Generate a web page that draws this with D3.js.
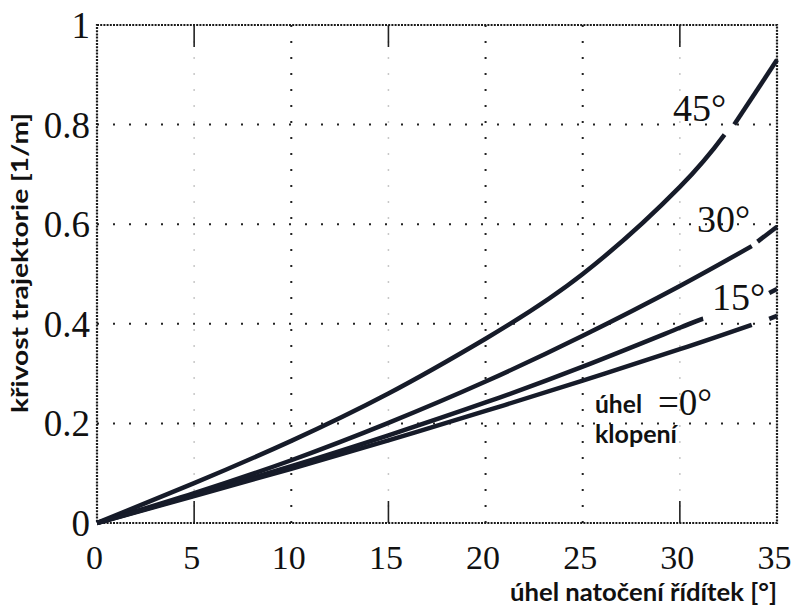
<!DOCTYPE html>
<html>
<head>
<meta charset="utf-8">
<script src="https://cdn.jsdelivr.net/npm/d3@7"></script>
<style>
  body { margin: 0; background: #fff; }
  svg { display: block; }
</style>
</head>
<body>
<div id="chart"></div>
<script>
const xTicks = [0, 5, 10, 15, 20, 25, 30, 35]
const yTicks = [0, 0.2, 0.4, 0.6, 0.8, 1]
const gridX = [10, 20, 25]
const tickX = [5, 15, 30]
const gridY = [0.2, 0.4, 0.6, 0.8]

// each curve is drawn as separate pieces, gaps as in the scan
const curve45 = [
  [[0, 0], [5, 0.080], [10, 0.165], [15, 0.260], [20, 0.370], [25, 0.500], [30, 0.675], [32.3, 0.78]],
  [[32.8, 0.80], [35, 0.93]]
]
const curve30 = [
  [[0, 0], [5, 0.060], [10, 0.126], [15, 0.201], [20, 0.284], [25, 0.376], [30, 0.476], [33.7, 0.556]],
  [[34.0, 0.565], [35, 0.595]]
]
const curve15 = [
  [[0, 0], [5, 0.056], [10, 0.114], [15, 0.176], [20, 0.242], [25, 0.314], [30, 0.392], [31.2, 0.41]],
  [[34.6, 0.462], [35, 0.47]]
]
const curve0 = [
  [[0, 0], [5, 0.054], [10, 0.109], [15, 0.166], [20, 0.225], [25, 0.286], [30, 0.349], [33.7, 0.398]],
  [[34.6, 0.41], [35, 0.416]]
]
const curves = [curve45, curve30, curve15, curve0]

const labels = [
  {text: "45°", x: 673, y: 121},
  {text: "30°", x: 697, y: 232},
  {text: "15°", x: 712, y: 310}
]

const width = 795
const height = 613
const margin = {left: 97, right: 18, top: 25, bottom: 90}

const svg = d3.select("#chart").append("svg")
  .attr("width", width)
  .attr("height", height)

const scaleX = d3.scaleLinear()
  .domain([0, 35])
  .range([margin.left, width - margin.right])
const scaleY = d3.scaleLinear()
  .domain([0, 1])
  .range([height - margin.bottom, margin.top])

const ink = "#161b29"
const serif = "'Liberation Serif', 'Times New Roman', serif"
const sans = "Lato, 'Noto Sans', sans-serif"

// faint dotted lines behind the tick marks
svg.append("g").selectAll("line")
  .data(tickX)
  .join("line")
    .attr("x1", d => scaleX(d)).attr("x2", d => scaleX(d))
    .attr("y1", scaleY(1)).attr("y2", scaleY(0))
    .attr("stroke", "#c8c8c8")
    .attr("stroke-width", 1.5)
    .attr("stroke-dasharray", "2,14")

// dotted grid
const grid = svg.append("g")
  .attr("stroke", "#222")
  .attr("stroke-width", 2)
  .attr("stroke-dasharray", "2,14")
grid.selectAll("line.gx")
  .data(gridX)
  .join("line")
    .attr("class", "gx")
    .attr("x1", d => scaleX(d)).attr("x2", d => scaleX(d))
    .attr("y1", scaleY(0)).attr("y2", scaleY(1))
grid.selectAll("line.gy")
  .data(gridY)
  .join("line")
    .attr("class", "gy")
    .attr("x1", scaleX(0)).attr("x2", scaleX(35))
    .attr("y1", d => scaleY(d)).attr("y2", d => scaleY(d))

// frame, densely dotted
svg.append("rect")
  .attr("x", scaleX(0))
  .attr("y", scaleY(1))
  .attr("width", scaleX(35) - scaleX(0))
  .attr("height", scaleY(0) - scaleY(1))
  .attr("fill", "none")
  .attr("stroke", "#1a1a1a")
  .attr("stroke-width", 2.2)
  .attr("stroke-dasharray", "2,1.2")

// solid tick marks at top and bottom
const ticks = svg.append("g").attr("stroke", "#222").attr("stroke-width", 1.6)
ticks.selectAll("line.tb")
  .data(tickX)
  .join("line")
    .attr("class", "tb")
    .attr("x1", d => scaleX(d)).attr("x2", d => scaleX(d))
    .attr("y1", scaleY(0)).attr("y2", scaleY(0) - 22)
ticks.selectAll("line.tt")
  .data(tickX)
  .join("line")
    .attr("class", "tt")
    .attr("x1", d => scaleX(d)).attr("x2", d => scaleX(d))
    .attr("y1", scaleY(1)).attr("y2", scaleY(1) + 22)

// tick labels
const axisX = d3.axisBottom(scaleX).tickValues(xTicks).tickSize(0).tickPadding(22)
svg.append("g")
  .attr("transform", `translate(0, ${scaleY(0)})`)
  .call(axisX)
  .call(g => g.select(".domain").remove())
  .call(g => g.selectAll("text")
    .attr("font-family", serif)
    .attr("font-size", 34)
    .attr("fill", "#111")
    .attr("dx", -3))

const axisY = d3.axisLeft(scaleY).tickValues(yTicks).tickSize(0).tickPadding(7)
  .tickFormat(d => String(d))
svg.append("g")
  .attr("transform", `translate(${scaleX(0)}, 0)`)
  .call(axisY)
  .call(g => g.select(".domain").remove())
  .call(g => g.selectAll("text")
    .attr("font-family", serif)
    .attr("font-size", 37)
    .attr("fill", "#111")
    .attr("dy", "0.34em"))

// curves
const line = d3.line()
  .x(d => scaleX(d[0]))
  .y(d => scaleY(d[1]))
  .curve(d3.curveNatural)

svg.append("g").selectAll("path")
  .data(curves.flat())
  .join("path")
    .attr("d", line)
    .attr("fill", "none")
    .attr("stroke", ink)
    .attr("stroke-width", 4.5)
    .attr("stroke-linecap", "butt")

// curve labels
svg.append("g").selectAll("text")
  .data(labels)
  .join("text")
    .attr("x", d => d.x)
    .attr("y", d => d.y)
    .attr("font-family", serif)
    .attr("font-size", 38)
    .attr("fill", "#111")
    .text(d => d.text)

svg.append("text")
  .attr("x", 658).attr("y", 415)
  .attr("font-family", serif)
  .attr("font-size", 37)
  .attr("fill", "#111")
  .text("=0°")

svg.append("text")
  .attr("x", 595).attr("y", 413)
  .attr("font-family", sans)
  .attr("font-weight", "bold")
  .attr("font-size", 24)
  .attr("fill", "#111")
  .attr("textLength", 47)
  .attr("lengthAdjust", "spacingAndGlyphs")
  .text("úhel")
svg.append("text")
  .attr("x", 595).attr("y", 443)
  .attr("font-family", sans)
  .attr("font-weight", "bold")
  .attr("font-size", 24)
  .attr("fill", "#111")
  .attr("textLength", 82)
  .attr("lengthAdjust", "spacingAndGlyphs")
  .text("klopení")

// axis titles
svg.append("text")
  .attr("x", 510).attr("y", 601)
  .attr("font-family", sans)
  .attr("font-weight", "bold")
  .attr("font-size", 24)
  .attr("fill", "#111")
  .attr("textLength", 267)
  .attr("lengthAdjust", "spacingAndGlyphs")
  .text("úhel natočení řídítek [°]")

svg.append("text")
  .attr("transform", "translate(28, 413) rotate(-90)")
  .attr("font-family", sans)
  .attr("font-weight", "bold")
  .attr("font-size", 22)
  .attr("fill", "#111")
  .attr("textLength", 300)
  .attr("lengthAdjust", "spacingAndGlyphs")
  .text("křivost trajektorie [1/m]")
</script>
</body>
</html>
